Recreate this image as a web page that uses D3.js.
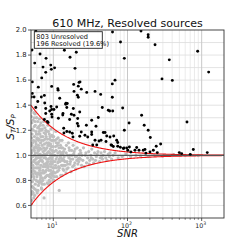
<!DOCTYPE html>
<html><head><meta charset="utf-8">
<script src="https://cdn.jsdelivr.net/npm/d3@7"></script>
<style>body{margin:0;background:#fff}svg{display:block;font-family:"DejaVu Sans",sans-serif}</style>
</head><body>
<script>
const title = "610 MHz, Resolved sources";
const legendLines = ["803 Unresolved", "196 Resolved (19.6%)"];
const yTicks = [0.6, 0.8, 1.0, 1.2, 1.4, 1.6, 1.8, 2.0];
const xTicks = [10, 100, 1000];
const envelopeA = 1.7, envelopeB = 0.9;

// resolved sources [SNR, S_T/S_P]
const resolved = [
[5.8,1.992],[62.8,1.984],[80.5,1.904],[152,1.992],[190,1.962],[190,1.942],[235,1.882],[883,1.83],[366,1.762],[1242,1.664],
[292,1.61],[402,1.598],[634,1.266],[5.16,1.84],[6.62,1.808],[14.1,1.838],[16.8,1.782],[20.4,1.822],[7.98,1.774],[90.6,1.774],
[7.26,1.704],[9.23,1.72],[9.4,1.686],[19.6,1.694],[10.4,1.698],[7.9,1.662],[6.98,1.618],[5.21,1.586],[5.61,1.736],[6.28,1.544],
[9.5,1.55],[11.5,1.532],[18.8,1.566],[22.2,1.582],[22.9,1.586],[21.7,1.552],[28.2,1.502],[62.4,1.57],[67.9,1.6],[62.4,1.464],
[43.5,1.486],[5.21,1.494],[5.5,1.466],[7.57,1.478],[12.2,1.456],[14.8,1.416],[21.1,1.48],[21.7,1.464],[6.17,1.43],[9.31,1.39],
[11.1,1.386],[5.8,1.382],[7.9,1.374],[7.9,1.334],[9.5,1.366],[9.5,1.328],[14.7,1.408],[15.2,1.382],[18.6,1.374],[19.0,1.32],
[21.3,1.294],[11.7,1.296],[13.4,1.322],[7.57,1.286],[8.3,1.27],[21.7,1.234],[13.8,1.216],[15.2,1.19],[18.0,1.176],[32.9,1.186],
[45.7,1.382],[57.5,1.354],[63.2,1.354],[86.1,1.378],[37.6,1.232],[47.2,1.182],[49.8,1.182],[52.5,1.154],[65.2,1.154],[27.9,1.24],
[34.0,1.082],[38.5,1.082],[41.3,1.114],[51.3,1.11],[60.0,1.082],[64.4,1.07],[71.5,1.12],[90.6,1.2],[105,1.258],[80.0,1.064],
[89.7,1.058],[97.5,1.058],[111,1.026],[126,1.04],[155,1.32],[163,1.04],[29.1,1.146],[36.5,1.51],[203,1.142],[244,1.072],
[280,1.09],[252,1.022],[499,1.022],[537,1.014],[702,1.008],[771,1.046],[1189,1.022],[32.9,1.28],[40.4,1.302],[168,1.24],
[190,1.2],[26.7,1.16],[32.9,1.166],[36.5,1.12],[44.0,1.12],[58.1,1.146],[61.2,1.08],[73.8,1.102],[73.8,1.072],[87.8,1.054],
[101,1.04],[106,1.066],[133,1.062],[143,1.04],[172,1.046],[177,1.018],[201,1.026],[223,1.04],[5.06,1.466],[6.89,1.466],
[7.66,1.418],[10.2,1.366],[8.94,1.354],[15.4,1.414],[22.7,1.346],[9.6,1.306],[13.5,1.334],[17.5,1.328],[8.5,1.262],[16.6,1.286],
[21.1,1.254],[13.9,1.178],[16.6,1.186],[18.4,1.146],[22.7,1.152],[23.8,1.186],[11.6,1.52],[23.8,1.528],[19.0,1.51],[55.1,1.36]
];

// unresolved sources [SNR, S_T/S_P]
const unresolved = [
[5.1,0.64],[5.2,0.71],[5.05,0.83],[5.3,0.92],[5.1,1.02],[5.4,1.12],[5.2,1.21],[5.5,1.30],[5.05,1.36],[5.6,0.68],
[5.7,0.77],[5.35,0.88],[5.8,0.97],[5.45,1.06],[5.9,1.17],[5.15,1.26],[5.65,1.33],[5.25,0.75],[5.5,0.81],[5.75,0.86],
[5.95,0.93],[5.3,0.99],[5.55,1.04],[5.85,1.09],[5.1,1.14],[5.4,0.95],[5.7,1.24],[5.95,0.72],[5.2,0.9],[5.6,1.0],
[5.8,1.19],[5.35,1.28],[5.0,0.97],[5.9,0.8],[5.45,0.66],[5.15,1.08],[5.75,1.11],[5.5,0.9],
[5.02,0.61],[5.12,0.69],[5.22,0.79],[5.32,0.85],[5.42,0.74],[5.52,0.96],[5.62,0.87],[5.72,1.02],[5.82,0.9],[5.92,1.06],
[5.07,0.94],[5.17,1.17],[5.27,1.04],[5.37,1.2],[5.47,1.34],[5.57,1.15],[5.67,1.27],[5.77,0.94],[5.87,1.3],[5.97,1.13],
[5.05,1.31],[5.25,1.1],[5.45,0.83],[5.65,0.73],[5.85,0.99],[5.35,0.7],[5.55,1.23],[5.15,0.87],[5.75,1.07],[5.95,0.85],
[6.05,0.7],[6.2,0.79],[6.4,0.85],[6.1,0.94],[6.6,1.01],[6.3,1.08],[6.8,1.15],[6.15,1.22],[6.5,1.29],[6.9,0.74],
[6.35,0.9],[6.7,0.96],[6.25,1.04],[6.95,1.12],[6.45,1.19],[6.0,1.3],[6.75,0.82],[6.55,0.88],[6.85,0.99],[6.05,1.06],
[6.65,1.24],[6.3,0.76],[6.15,0.98],[6.9,1.05],[6.45,1.13],[6.8,0.92],[6.2,1.17],[6.6,0.8],[6.35,1.0],[6.95,1.2],
[6.02,0.83],[6.12,0.9],[6.22,0.72],[6.32,1.12],[6.42,0.95],[6.52,1.06],[6.62,0.9],[6.72,1.1],[6.82,0.86],[6.92,1.0],
[6.08,1.14],[6.18,1.27],[6.28,0.86],[6.38,1.23],[6.48,0.78],[6.58,1.17],[6.68,0.98],[6.78,1.26],[6.88,0.79],[6.98,0.96],
[6.1,1.02],[6.4,1.04],[6.7,0.84],[6.25,0.93],[6.55,1.21],
[7.0,0.73],[7.2,0.8],[7.5,0.86],[7.8,0.91],[8.1,0.97],[7.3,1.03],[7.6,1.09],[8.0,1.15],[7.1,1.21],[7.4,1.27],
[8.3,0.78],[7.9,0.83],[8.4,0.9],[7.15,0.95],[7.7,1.0],[8.2,1.06],[7.35,1.12],[7.95,1.2],[8.45,1.24],[7.55,0.77],
[7.25,0.88],[8.15,0.94],[7.65,1.04],[7.05,1.08],[8.35,1.13],[7.85,1.17],[7.45,0.98],[8.05,1.01],[7.75,0.93],[7.5,0.66],
[7.02,0.82],[7.12,1.0],[7.22,1.15],[7.32,0.91],[7.42,1.06],[7.52,1.18],[7.62,0.82],[7.72,1.13],[7.82,0.87],[7.92,1.05],
[8.02,0.88],[8.12,1.1],[8.22,0.84],[8.32,1.02],[8.42,0.95],[7.08,0.77],[7.28,1.24],[7.48,0.93],[7.68,1.22],[7.88,0.98],
[8.08,1.19],[8.28,0.92],[8.48,1.08],[7.18,0.86],[7.58,1.01],
[8.6,0.77],[8.9,0.83],[9.2,0.88],[9.6,0.93],[8.7,0.97],[9.0,1.02],[9.4,1.07],[9.8,1.12],[8.8,1.17],[9.3,1.21],
[9.9,0.8],[9.5,0.86],[8.55,0.91],[9.7,0.99],[9.1,1.05],[8.65,1.1],[9.55,1.16],[9.95,1.03],[9.25,0.95],[8.95,1.13],
[9.85,0.9],[9.05,0.79],
[8.52,0.84],[8.62,1.03],[8.72,0.88],[8.82,1.08],[8.92,0.93],[9.02,1.15],[9.12,0.85],[9.22,1.0],[9.32,0.91],[9.42,1.12],
[9.52,0.97],[9.62,1.04],[9.72,0.84],[9.82,1.07],[9.92,0.95],[8.58,1.19],[8.78,0.8],[8.98,0.98],[9.18,1.09],[9.38,0.82],
[9.58,1.01],[9.78,1.15],[9.98,0.87],
[10.2,0.8],[10.6,0.86],[11.0,0.9],[11.5,0.94],[12.0,0.97],[10.4,1.0],[10.9,1.04],[11.4,1.08],[12.3,1.12],[10.1,1.15],
[10.8,1.19],[12.6,0.84],[11.8,0.88],[12.9,0.92],[10.5,0.95],[11.2,0.99],[12.2,1.03],[10.7,1.07],[11.7,1.1],[12.8,1.06],
[11.1,0.83],[12.4,0.99],[12.0,0.72],[10.3,0.9],[11.6,1.14],
[10.1,0.86],[10.3,1.03],[10.5,1.12],[10.7,0.92],[10.9,0.97],[11.1,1.13],[11.3,0.87],[11.5,1.02],[11.7,0.95],[11.9,1.06],
[12.1,0.9],[12.3,0.95],[12.5,1.08],[12.7,0.98],[12.9,1.02],[13.1,0.96],[13.3,1.06],[13.5,0.89],[13.7,1.03],[13.9,0.92],
[10.4,0.83],[11.0,1.1],[11.8,0.91],[12.6,1.01],[13.6,0.97],
[13.2,0.84],[13.8,0.88],[14.5,0.92],[15.3,0.95],[16.2,0.98],[13.5,1.01],[14.2,1.05],[15.0,1.08],[16.5,1.04],[13.1,1.12],
[14.8,0.86],[15.8,0.9],[16.8,0.93],[13.9,0.96],[15.5,1.0],[16.0,1.1],[14.0,0.99],[13.4,0.92],
[14.3,0.95],[14.9,1.02],[15.6,0.93],[16.3,1.06],[17.0,0.95],[17.6,1.04],[18.3,0.97],[19.0,0.92],[19.7,1.05],[20.5,0.99],
[21.4,0.93],[22.3,1.01],[23.2,0.97],[24.3,1.0],[15.2,0.89],[16.7,1.0],[18.8,1.01],[21.7,0.97],
[17.3,0.87],[18.2,0.91],[19.5,0.94],[20.8,0.96],[22.5,0.98],[17.8,1.0],[19.0,1.03],[21.0,1.06],[23.5,1.02],[18.5,1.08],
[24.0,0.92],[20.0,0.89],[22.0,0.95],[17.1,0.97],[19.8,0.99],[23.0,1.04],
[26,0.91],[28,0.94],[31,0.96],[34,0.97],[38,0.99],[27,1.0],[30,1.03],[33,1.05],[36,1.02],[25.5,1.06],
[29,0.98],[35,0.94],[39,1.01],
[25,0.96],[27.5,1.02],[30.5,0.93],[32,1.0],[37,0.96],[40,1.03],[43,0.98],[47,1.0],[53,0.96],[58,1.02],
[32.5,0.98],[45,0.99],
[42,0.95],[46,0.97],[51,0.98],[57,0.99],[64,1.0],[44,1.02],[49,1.03],[55,1.01],[61,0.97],[68,1.02],
[75,0.98],[85,0.99],[95,1.01],[110,0.99],[130,1.0],[150,0.995],[175,1.01],[190,0.99],
[230,1.0],[300,0.995],[420,1.005],[600,1.0],[900,0.998]
];

const W = 249, H = 249;
const m = {l: 31, r: 224, t: 30, b: 218};
const svg = d3.select("body").append("svg").attr("width", W).attr("height", H);

const x = d3.scaleLog().domain([5, 2000]).range([m.l, m.r]);
const y = d3.scaleLinear().domain([0.5, 2.0]).range([m.b, m.t]);

svg.append("defs").append("clipPath").attr("id", "clip")
  .append("rect").attr("x", m.l).attr("y", m.t).attr("width", m.r - m.l).attr("height", m.b - m.t);

const grid = svg.append("g");
const minorX = [];
for (let d = 1; d <= 1000; d *= 10) for (let k = 2; k <= 9; k++) { const v = d * k; if (v > 5 && v < 2000) minorX.push(v); }
grid.selectAll(".vmin").data(minorX).enter().append("line")
  .attr("x1", d => x(d)).attr("x2", d => x(d)).attr("y1", m.t).attr("y2", m.b)
  .attr("stroke", "#e6e6e6").attr("stroke-width", 0.8);
const yGrid = d3.range(6, 20).map(v => v / 10);
grid.selectAll(".hg").data(yGrid).enter().append("line")
  .attr("x1", m.l).attr("x2", m.r).attr("y1", d => y(d)).attr("y2", d => y(d))
  .attr("stroke", "#dcdcdc").attr("stroke-width", 0.8);
grid.selectAll(".vmaj").data(xTicks).enter().append("line")
  .attr("x1", d => x(d)).attr("x2", d => x(d)).attr("y1", m.t).attr("y2", m.b)
  .attr("stroke", "#c8c8c8").attr("stroke-width", 1);

const plot = svg.append("g").attr("clip-path", "url(#clip)");
plot.selectAll(".u").data(unresolved).enter().append("circle")
  .attr("cx", d => x(d[0])).attr("cy", d => y(d[1])).attr("r", 1.6).attr("fill", "#bfbfbf");

const line = d3.line().x(d => x(d[0])).y(d => y(d[1]));
const snrs = d3.range(0, 401).map(i => 5 * Math.pow(400, i / 400));
plot.append("path").datum(snrs.map(s => [s, 1 + envelopeA * Math.pow(s, -envelopeB)]))
  .attr("d", line).attr("fill", "none").attr("stroke", "#ee1111").attr("stroke-width", 1.1);
plot.append("path").datum(snrs.map(s => [s, 1 - envelopeA * Math.pow(s, -envelopeB)]))
  .attr("d", line).attr("fill", "none").attr("stroke", "#ee1111").attr("stroke-width", 1.1);
plot.append("line").attr("x1", m.l).attr("x2", m.r).attr("y1", y(1)).attr("y2", y(1))
  .attr("stroke", "#555").attr("stroke-width", 1.3);

plot.selectAll(".r").data(resolved).enter().append("circle")
  .attr("cx", d => x(d[0])).attr("cy", d => y(d[1])).attr("r", 1.45).attr("fill", "#000");

svg.append("rect").attr("x", m.l).attr("y", m.t).attr("width", m.r - m.l).attr("height", m.b - m.t)
  .attr("fill", "none").attr("stroke", "#333").attr("stroke-width", 0.9);

const yAxis = svg.append("g");
yAxis.selectAll("line").data(yTicks).enter().append("line")
  .attr("x1", m.l - 3).attr("x2", m.l).attr("y1", d => y(d)).attr("y2", d => y(d)).attr("stroke", "#333").attr("stroke-width", 0.8);
yAxis.selectAll("text").data(yTicks).enter().append("text")
  .attr("x", m.l - 4.5).attr("y", d => y(d) + 2.3).attr("text-anchor", "end")
  .attr("font-size", 6.8).attr("fill", "#222").text(d => d.toFixed(1));

const xAxis = svg.append("g");
xAxis.selectAll(".mt").data(minorX).enter().append("line")
  .attr("x1", d => x(d)).attr("x2", d => x(d)).attr("y1", m.b).attr("y2", m.b + 1.8).attr("stroke", "#333").attr("stroke-width", 0.6);
xAxis.selectAll(".Mt").data(xTicks).enter().append("line")
  .attr("x1", d => x(d)).attr("x2", d => x(d)).attr("y1", m.b).attr("y2", m.b + 3).attr("stroke", "#333").attr("stroke-width", 0.8);
const xt = xAxis.selectAll(".xl").data(xTicks).enter().append("text")
  .attr("x", d => x(d) - 1).attr("y", m.b + 9.5).attr("text-anchor", "middle").attr("font-size", 6.3).attr("fill", "#222");
xt.append("tspan").text("10");
xt.append("tspan").attr("dy", -2.6).attr("font-size", 4.6).text(d => String(Math.round(Math.log10(d))));

svg.append("text").attr("x", (m.l + m.r) / 2).attr("y", 237).attr("text-anchor", "middle")
  .attr("font-size", 10).attr("font-style", "italic").attr("fill", "#111").text("SNR");
const yl = svg.append("text").attr("transform", `translate(14,${(m.t + m.b) / 2 + 3}) rotate(-90)`)
  .attr("text-anchor", "middle").attr("font-size", 10.5).attr("font-style", "italic").attr("fill", "#111");
yl.append("tspan").text("S");
yl.append("tspan").attr("dy", 2).attr("font-size", 7).text("T");
yl.append("tspan").attr("dy", -2).text("/S");
yl.append("tspan").attr("dy", 2).attr("font-size", 7).text("P");

svg.append("text").attr("x", 127.5).attr("y", 27).attr("text-anchor", "middle")
  .attr("font-size", 11).attr("fill", "#111").text(title);

const lg = svg.append("g");
lg.append("rect").attr("x", 34.3).attr("y", 31.7).attr("width", 68).attr("height", 16.6)
  .attr("fill", "#fff").attr("fill-opacity", 0.85).attr("stroke", "#222").attr("stroke-width", 0.9);
lg.selectAll("text").data(legendLines).enter().append("text")
  .attr("x", 36.3).attr("y", (d, i) => 38.8 + i * 7).attr("font-size", 6.6).attr("fill", "#111").text(d => d);
</script>
</body></html>
